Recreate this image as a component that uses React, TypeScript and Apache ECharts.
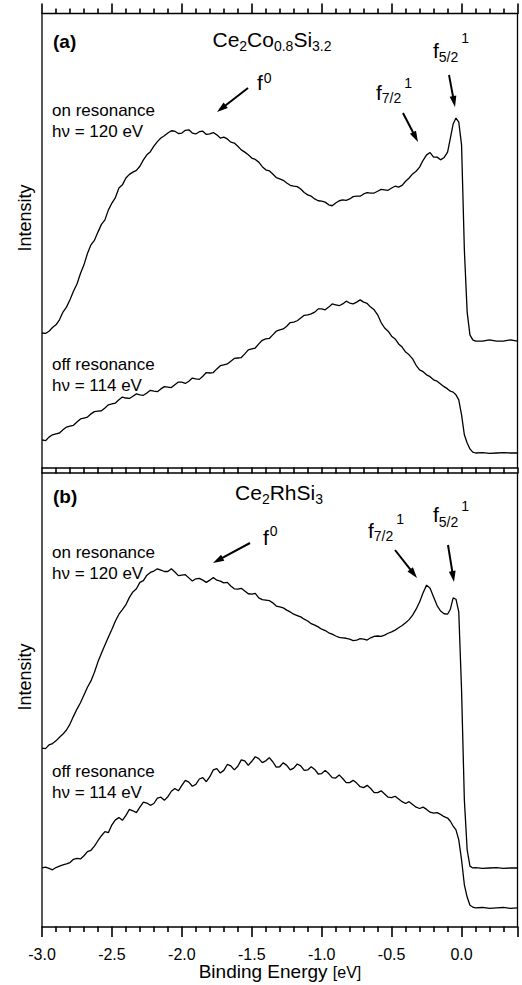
import React, { useEffect, useRef } from "react";
import * as echarts from "echarts";

// Binding energy grid (eV)
const energy = [
  -3.0, -2.975, -2.95, -2.925, -2.9, -2.875, -2.85, -2.825, -2.8, -2.775,
  -2.75, -2.725, -2.7, -2.675, -2.65, -2.625, -2.6, -2.575, -2.55, -2.525,
  -2.5, -2.475, -2.45, -2.425, -2.4, -2.375, -2.35, -2.325, -2.3, -2.275,
  -2.25, -2.225, -2.2, -2.175, -2.15, -2.125, -2.1, -2.075, -2.05, -2.025,
  -2.0, -1.975, -1.95, -1.925, -1.9, -1.875, -1.85, -1.825, -1.8, -1.775,
  -1.75, -1.725, -1.7, -1.675, -1.65, -1.625, -1.6, -1.575, -1.55, -1.525,
  -1.5, -1.475, -1.45, -1.425, -1.4, -1.375, -1.35, -1.325, -1.3, -1.275,
  -1.25, -1.225, -1.2, -1.175, -1.15, -1.125, -1.1, -1.075, -1.05, -1.025,
  -1.0, -0.975, -0.95, -0.925, -0.9, -0.875, -0.85, -0.825, -0.8, -0.775,
  -0.75, -0.725, -0.7, -0.675, -0.65, -0.625, -0.6, -0.575, -0.55, -0.525,
  -0.5, -0.475, -0.45, -0.425, -0.4, -0.375, -0.35, -0.325, -0.3, -0.275,
  -0.25, -0.225, -0.2, -0.175, -0.15, -0.125, -0.1,
  -0.08, -0.06, -0.04, -0.02, 0.0, 0.02, 0.04, 0.06, 0.08, 0.1, 0.15, 0.2, 0.25, 0.3, 0.35, 0.4,
];

// (a) Ce2Co0.8Si3.2, on resonance (hv = 120 eV)
const aOn = [
  29.7, 29.6, 30.1, 30.9, 31.5, 32.6, 34.3, 35.4, 37.0, 38.9,
  40.5, 42.8, 44.7, 47.2, 49.1, 50.1, 51.9, 53.6, 54.6, 56.8,
  58.3, 59.5, 61.6, 62.3, 63.8, 64.6, 65.1, 65.5, 66.4, 67.8,
  68.9, 69.6, 70.8, 71.8, 72.6, 73.1, 73.7, 74.2, 74.1, 73.6,
  73.7, 74.3, 74.4, 73.7, 73.5, 74.0, 74.1, 73.4, 73.5, 73.8,
  73.3, 72.6, 72.8, 72.4, 71.7, 71.5, 70.8, 70.0, 69.5, 68.9,
  68.2, 67.9, 67.3, 66.3, 65.6, 65.4, 64.7, 63.9, 63.6, 63.3,
  62.7, 62.2, 62.0, 61.9, 61.4, 60.6, 60.1, 59.8, 59.2, 58.8,
  58.7, 58.5, 57.9, 57.7, 58.3, 58.8, 59.0, 58.9, 59.2, 59.7,
  59.8, 59.8, 60.3, 60.6, 60.5, 60.5, 60.9, 61.3, 61.2, 61.1,
  61.6, 62.0, 61.8, 62.2, 63.1, 63.8, 64.7, 65.3, 66.2, 67.7,
  68.9, 69.4, 68.4, 68.4, 67.8, 68.3, 69.5,
  72.6, 75.7, 77.0, 76.1, 71.1, 48.0, 34.3, 29.3, 28.2, 27.9, 27.9, 28.2, 27.9, 27.9, 28.2, 27.9,
];

// (a) off resonance (hv = 114 eV)
const aOff = [
  6.2, 6.0, 6.8, 7.3, 7.5, 7.7, 8.4, 9.0, 9.2, 9.4,
  10.1, 10.8, 11.0, 11.2, 11.9, 12.4, 12.5, 12.6, 13.2, 13.9,
  14.1, 14.3, 15.0, 15.6, 15.4, 15.3, 15.8, 16.3, 16.1, 16.0,
  16.5, 17.1, 16.9, 16.8, 17.4, 17.9, 17.8, 17.7, 18.3, 18.9,
  18.9, 18.6, 19.1, 19.8, 19.6, 19.5, 20.2, 21.0, 20.9, 21.0,
  21.8, 22.5, 22.7, 22.9, 23.5, 24.1, 24.2, 24.3, 25.1, 26.0,
  26.2, 26.4, 27.3, 28.1, 28.4, 28.5, 29.3, 30.1, 30.4, 30.6,
  31.2, 32.0, 32.1, 32.4, 33.0, 33.6, 33.7, 33.9, 34.3, 35.0,
  35.0, 34.8, 35.4, 36.1, 35.9, 35.7, 36.1, 36.7, 36.3, 36.1,
  36.5, 37.0, 36.5, 36.2, 35.4, 34.8, 33.7, 32.0, 30.8, 30.1,
  29.0, 28.4, 27.3, 26.6, 25.5, 24.9, 24.0, 22.6, 21.6, 21.2,
  20.5, 20.1, 19.4, 19.1, 18.5, 17.9, 17.4,
  16.9, 16.7, 16.1, 15.0, 11.7, 7.3, 5.5, 4.2, 3.5, 3.3, 3.4, 3.2, 3.3, 3.4, 3.3, 3.3,
];

// (b) Ce2RhSi3, on resonance (hv = 120 eV)
const bOn = [
  39.4, 39.3, 40.1, 40.4, 41.0, 41.8, 42.5, 43.4, 44.7, 46.4,
  48.0, 49.4, 51.1, 52.8, 54.2, 56.1, 58.4, 60.3, 62.1, 63.9,
  65.6, 67.4, 68.9, 69.9, 71.0, 72.6, 73.8, 74.5, 75.9, 76.3,
  77.5, 78.1, 78.4, 78.9, 78.6, 78.3, 78.3, 78.9, 78.2, 77.4,
  77.5, 77.6, 76.9, 76.2, 76.7, 76.8, 76.4, 75.9, 76.4, 77.0,
  76.4, 76.2, 75.8, 75.9, 75.1, 74.5, 74.4, 74.6, 74.0, 73.4,
  73.3, 73.5, 72.5, 72.1, 72.0, 71.9, 71.4, 70.7, 70.5, 70.3,
  69.8, 69.4, 68.9, 68.6, 68.3, 67.8, 67.4, 66.8, 66.5, 66.1,
  65.6, 65.3, 64.8, 64.5, 64.1, 63.8, 63.7, 63.6, 63.4, 63.1,
  63.2, 63.5, 63.4, 63.2, 63.7, 64.0, 64.1, 64.0, 64.3, 64.7,
  65.0, 65.4, 65.9, 66.4, 67.0, 67.7, 68.7, 70.0, 71.6, 73.6,
  75.3, 74.6, 72.7, 70.8, 69.6, 69.0, 68.9,
  70.0, 72.5, 72.2, 69.4, 52.2, 28.0, 17.0, 13.4, 13.0, 13.1, 12.9, 13.0, 13.1, 12.9, 13.0, 13.0,
];

// (b) off resonance (hv = 114 eV)
const bOff = [
  13.0, 13.2, 12.9, 12.6, 13.1, 13.4, 13.7, 13.9, 14.2, 14.9,
  15.1, 15.0, 15.7, 16.6, 16.9, 17.8, 19.0, 20.1, 21.0, 20.8,
  22.5, 23.6, 24.1, 23.5, 24.6, 25.9, 25.6, 25.2, 26.4, 27.5,
  27.3, 26.8, 27.2, 28.4, 28.6, 27.9, 28.7, 29.9, 30.5, 30.0,
  31.2, 32.3, 31.9, 31.0, 31.4, 32.6, 32.9, 32.0, 33.1, 34.6,
  34.9, 33.9, 34.5, 35.8, 35.5, 34.6, 35.4, 36.8, 36.6, 35.6,
  36.5, 37.5, 37.1, 36.2, 36.6, 37.3, 36.4, 35.2, 35.3, 36.2,
  35.6, 34.6, 35.0, 35.9, 35.5, 34.5, 34.6, 35.3, 34.7, 33.7,
  33.8, 34.5, 33.8, 32.9, 32.8, 33.5, 32.7, 31.8, 31.8, 32.3,
  31.7, 30.9, 30.7, 31.2, 30.5, 29.6, 29.6, 30.0, 29.3, 28.6,
  28.5, 28.8, 28.2, 27.6, 27.2, 27.6, 27.0, 26.4, 26.1, 26.4,
  25.9, 25.3, 25.1, 25.2, 24.8, 24.3, 24.0,
  23.3, 22.2, 21.4, 19.2, 14.8, 9.3, 6.6, 4.8, 4.4, 4.2, 4.3, 4.1, 4.2, 4.3, 4.1, 4.2,
];

// Axis range and tick labels
const xMin = -3.0;
const xMax = 0.4;
const majorTicks = [-3.0, -2.5, -2.0, -1.5, -1.0, -0.5, 0.0, 0.4];
const tickLabels = ["-3.0", "-2.5", "-2.0", "-1.5", "-1.0", "-0.5", "0.0"];

const FONT = '"Liberation Sans", Arial, Helvetica, sans-serif';

type Part = [string, number, number, number?, boolean?]; // text, size, baseline offset, dx before, bold

export default function App() {
  const ref = useRef<HTMLDivElement>(null);

  useEffect(() => {
    if (!ref.current) return;
    const chart = echarts.init(ref.current, null, { renderer: "svg" });

    const cv = document.createElement("canvas").getContext("2d")!;
    const measure = (t: string, size: number, bold?: boolean) => {
      cv.font = `${bold ? "bold " : ""}${size}px ${FONT}`;
      return cv.measureText(t).width;
    };

    const richText = (x: number, baseline: number, parts: Part[], align: "left" | "center" = "left") => {
      const widths = parts.map((p) => measure(p[0], p[1], p[4]) + (p[3] || 0));
      const total = widths.reduce((a, b) => a + b, 0);
      let cx = align === "center" ? x - total / 2 : x;
      return parts.map((p, i) => {
        const px = cx + (p[3] || 0);
        cx += widths[i];
        const size = p[1];
        return {
          type: "text",
          x: px,
          y: baseline + p[2] - 0.35 * size,
          z: 100,
          style: {
            text: p[0],
            font: `${p[4] ? "bold " : ""}${size}px ${FONT}`,
            fill: "#000",
            align: "left",
            verticalAlign: "middle",
            textAlign: "left",
            textVerticalAlign: "middle",
          },
        };
      });
    };

    const arrow = (x1: number, y1: number, x2: number, y2: number) => {
      const dx = x2 - x1;
      const dy = y2 - y1;
      const L = Math.hypot(dx, dy);
      const ux = dx / L;
      const uy = dy / L;
      const hl = 11;
      const hw = 3.4;
      const bx = x2 - ux * hl;
      const by = y2 - uy * hl;
      return [
        { type: "line", z: 100, shape: { x1, y1, x2: bx + ux * 2, y2: by + uy * 2 }, style: { stroke: "#000", lineWidth: 2 } },
        {
          type: "polygon",
          z: 100,
          shape: { points: [[x2, y2], [bx - uy * hw, by + ux * hw], [bx + uy * hw, by - ux * hw]] },
          style: { fill: "#000" },
        },
      ];
    };

    const mk = (vals: number[], xi: number, yi: number) => ({
      type: "line",
      xAxisIndex: xi,
      yAxisIndex: yi,
      data: energy.map((e, i) => [e, vals[i]]),
      showSymbol: false,
      symbol: "none",
      lineStyle: { color: "#000", width: 1.3 },
      clip: true,
    });

    const grids = [
      { left: 42, top: 13.5, width: 475.5, height: 454.5 },
      { left: 42, top: 473, width: 475.5, height: 454 },
    ];

    // Tick marks along each axis line (pixel-aligned, same linear map as the value axis)
    const toPx = (gi: number, v: number) => grids[gi].left + ((v - xMin) / (xMax - xMin)) * grids[gi].width;
    const topA = grids[0].top;
    const botA = grids[0].top + grids[0].height;
    const topB = grids[1].top;
    const botB = grids[1].top + grids[1].height;
    const ticks: any[] = [];
    const tickLine = (x: number, y1: number, y2: number) => ({
      type: "line",
      z: 100,
      shape: { x1: x, y1, x2: x, y2 },
      style: { stroke: "#000", lineWidth: 1.6, lineCap: "butt" },
    });
    for (let i = 0; i <= 34; i++) {
      const v = xMin + i * 0.1;
      const isMajor = majorTicks.some((t) => Math.abs(t - v) < 1e-6);
      const len = isMajor ? 10 : 5;
      const xa = Math.round(toPx(0, v));
      const xb = Math.round(toPx(1, v));
      ticks.push(tickLine(xa, topA - len, topA + 0.5));
      ticks.push(tickLine(xa, botA - 0.5, topB + 0.5));
      ticks.push(tickLine(xb, botB - 0.5, botB + len));
    }

    const LBL = 17;
    const graphics: any[] = [
      ...ticks,
      // panel (a)
      ...richText(53, 48, [["(a)", 19, 0, 0, true]]),
      ...richText(272, 47, [["Ce", 21, 0], ["2", 14, 4], ["Co", 21, 0], ["0.8", 14, 4], ["Si", 21, 0], ["3.2", 14, 4]], "center"),
      ...richText(257, 90, [["f", 21, 0], ["0", 14, -7, 1]]),
      ...richText(376, 100, [["f", 21, 0], ["7/2", 14, 3], ["1", 14, -12, 3]]),
      ...richText(433, 58, [["f", 21, 0], ["5/2", 14, 4], ["1", 14, -15, 3]]),
      ...arrow(248, 88, 217, 112),
      ...arrow(403, 113, 418, 142),
      ...arrow(449, 75, 455, 107),
      ...richText(52, 116, [["on resonance", LBL, 0]]),
      ...richText(52, 137, [["h\u03bd = 120 eV", LBL, 0]]),
      ...richText(52, 370, [["off resonance", LBL, 0]]),
      ...richText(52, 391, [["h\u03bd = 114 eV", LBL, 0]]),
      // panel (b)
      ...richText(53, 503, [["(b)", 19, 0, 0, true]]),
      ...richText(279, 500, [["Ce", 21, 0], ["2", 14, 4], ["RhSi", 21, 0], ["3", 14, 4]], "center"),
      ...richText(263, 545, [["f", 21, 0], ["0", 14, -9, 1]]),
      ...richText(368, 538, [["f", 21, 0], ["7/2", 14, 3], ["1", 14, -14, 3]]),
      ...richText(433, 522, [["f", 21, 0], ["5/2", 14, 5], ["1", 14, -11, 3]]),
      ...arrow(250, 543, 213, 563),
      ...arrow(395, 550, 417, 578),
      ...arrow(448, 545, 454, 582),
      ...richText(52, 558, [["on resonance", LBL, 0]]),
      ...richText(52, 579, [["h\u03bd = 120 eV", LBL, 0]]),
      ...richText(52, 777, [["off resonance", LBL, 0]]),
      ...richText(52, 798, [["h\u03bd = 114 eV", LBL, 0]]),
      // axis titles
      ...richText(280, 978, [["Binding Energy ", 19, 0], ["[eV]", 16, 0]], "center"),
      {
        type: "text",
        x: 25,
        y: 218,
        rotation: Math.PI / 2,
        style: { text: "Intensity", font: `18px ${FONT}`, fill: "#000", align: "center", verticalAlign: "middle", textAlign: "center", textVerticalAlign: "middle" },
      },
      {
        type: "text",
        x: 25,
        y: 677,
        rotation: Math.PI / 2,
        style: { text: "Intensity", font: `18px ${FONT}`, fill: "#000", align: "center", verticalAlign: "middle", textAlign: "center", textVerticalAlign: "middle" },
      },
    ];

    chart.setOption({
      animation: false,
      backgroundColor: "#fff",
      grid: grids.map((g) => ({ ...g, show: true, borderColor: "#000", borderWidth: 1.3, backgroundColor: "transparent" })),
      xAxis: [
        {
          type: "value",
          gridIndex: 0,
          min: xMin,
          max: xMax,
          interval: 0.5,
          axisLine: { show: false, onZero: false },
          axisTick: { show: false },
          axisLabel: { show: false },
          splitLine: { show: false },
        },
        {
          type: "value",
          gridIndex: 1,
          min: xMin,
          max: xMax,
          interval: 0.5,
          position: "bottom",
          axisLine: { show: false, onZero: false },
          axisTick: { show: false },
          splitLine: { show: false },
          axisLabel: {
            show: true,
            margin: 19,
            fontFamily: FONT,
            fontSize: 16,
            color: "#000",
            formatter: (v: number) => {
              const i = majorTicks.findIndex((t) => Math.abs(t - v) < 1e-6);
              return i >= 0 && i < tickLabels.length ? tickLabels[i] : "";
            },
          },
        },
      ],
      yAxis: [
        { type: "value", gridIndex: 0, min: 0, max: 100, show: false },
        { type: "value", gridIndex: 1, min: 0, max: 100, show: false },
      ],
      series: [mk(aOn, 0, 0), mk(aOff, 0, 0), mk(bOn, 1, 1), mk(bOff, 1, 1)],
      graphic: { elements: graphics },
    });

    return () => chart.dispose();
  }, []);

  return <div ref={ref} style={{ position: "absolute", left: 0, top: 0, width: 522, height: 985, background: "#fff" }} />;
}
